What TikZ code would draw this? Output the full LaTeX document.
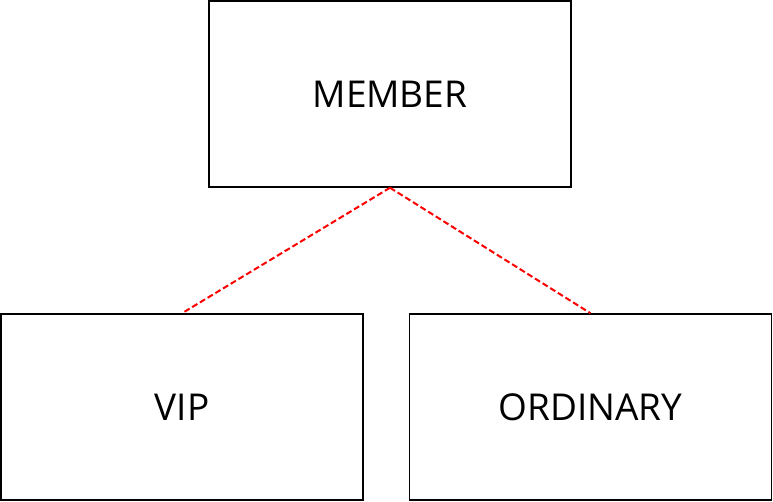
\documentclass[tikz,border=0pt]{standalone}
\usepackage{fontspec}
\setmainfont{Open Sans}
\begin{document}
\begin{tikzpicture}[x=1pt,y=-1pt,
  box/.style={draw=black,line width=1.5pt,minimum width=362pt,minimum height=186pt,inner sep=0pt,font=\fontsize{37}{40}\selectfont},
  link/.style={draw=red,line width=2pt,dash pattern=on 6pt off 3pt}]
\useasboundingbox (0,0) rectangle (773,502);
\node[box] (member) at (390,94) {MEMBER};
\node[box] (vip) at (182,407) {VIP};
\node[box] (ord) at (590.5,407) {ORDINARY};
\draw[link] (member.south) -- (vip.north);
\draw[link] (member.south) -- (ord.north);
\end{tikzpicture}
\end{document}
